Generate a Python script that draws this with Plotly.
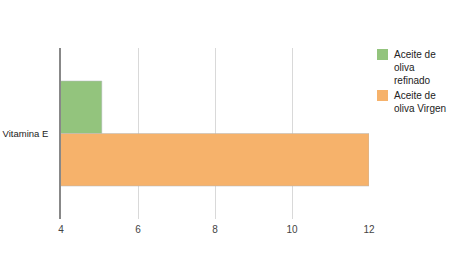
import plotly.graph_objects as go

categories = ["Vitamina E"]
series_names = ["Aceite de<br>oliva<br>refinado", "Aceite de<br>oliva Virgen"]
refinado = [5.06]
virgen = [12]
colors = ["#93c47d", "#f6b26b"]
x_ticks = [4, 6, 8, 10, 12]

W, H = 450, 253
L, R, T, B = 61, 81, 48, 34
PW, PH = W - L - R, H - T - B

fig = go.Figure()
for name, vals, col in zip(series_names, [refinado, virgen], colors):
    fig.add_trace(go.Bar(
        y=categories, x=vals, name=name, orientation="h", showlegend=False,
        marker=dict(color=col, line=dict(color="rgba(180,185,190,0.5)", width=1)),
    ))

# custom legend (pixel layout -> paper coords)
def px_x(px):
    return (px - L) / PW

def px_y(py):
    return (H - B - py) / PH

legend_tops = [49, 90]
for name, col, top in zip(series_names, colors, legend_tops):
    fig.add_shape(type="rect", xref="paper", yref="paper",
                  x0=px_x(377), x1=px_x(388), y0=px_y(top + 11), y1=px_y(top),
                  fillcolor=col, line=dict(width=0))
    fig.add_annotation(xref="paper", yref="paper", x=px_x(392), y=px_y(top - 2),
                       xanchor="left", yanchor="top", align="left", showarrow=False,
                       text=name, font=dict(size=10, color="#222"))

fig.update_layout(
    width=W, height=H,
    margin=dict(l=L, r=R, t=T, b=B),
    paper_bgcolor="white", plot_bgcolor="white",
    barmode="group", bargap=0.386, bargroupgap=0,
    font=dict(family="Liberation Sans, Arial, sans-serif", size=10, color="#444"),
    showlegend=False,
    xaxis=dict(range=[4, 12], tickvals=x_ticks, showgrid=True, gridcolor="#d9d9d9",
               gridwidth=1, zeroline=False, showline=False, ticks="",
               ticklabelstandoff=3, automargin=False,
               tickfont=dict(size=10, color="#444")),
    yaxis=dict(autorange="reversed", showline=True, linecolor="#888", linewidth=1.5,
               showgrid=False, zeroline=False, ticks="", ticklabelstandoff=9,
               automargin=False, tickfont=dict(size=9.5, color="#222")),
)

fig.write_html("out.html")
